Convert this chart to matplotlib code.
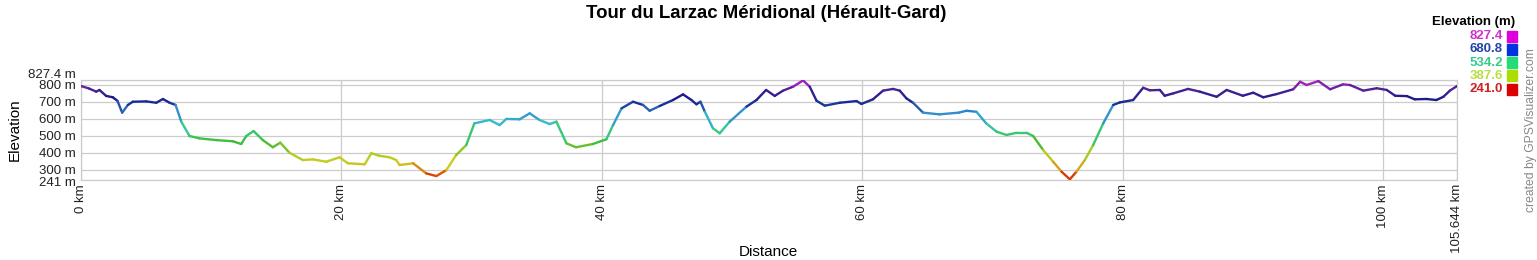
import numpy as np
import matplotlib.pyplot as plt
import matplotlib.transforms as mtransforms
from matplotlib.collections import LineCollection
from matplotlib.colors import LinearSegmentedColormap, Normalize

plt.rcParams['font.family'] = ['Liberation Sans', 'DejaVu Sans']

# profile: distance (km) and elevation (m)
dist_km = [0.0, 0.6, 1.17, 1.42, 1.93, 2.45, 2.8, 3.16, 3.6, 3.98, 5.0, 5.78, 6.29, 6.8,
           7.26, 7.7, 8.33, 9.1, 10.4, 11.66, 12.3, 12.69, 13.25, 13.96, 14.73, 15.3,
           16.0, 17.03, 17.8, 18.83, 19.85, 20.49, 21.78, 22.29, 22.9, 23.7, 24.2,
           24.46, 25.5, 26.5, 27.28, 28.05, 28.8, 29.58, 30.2, 31.37, 32.14, 32.66,
           33.68, 34.45, 35.2, 35.98, 36.5, 37.27, 38.0, 39.3, 40.34, 40.85, 41.5,
           42.38, 43.15, 43.66, 44.43, 45.45, 46.22, 46.87, 47.25, 47.56, 47.9, 48.52,
           49.04, 49.8, 51.09, 51.86, 52.6, 53.26, 53.9, 54.67, 55.44, 55.95, 56.47,
           57.1, 58.26, 59.54, 59.92, 60.8, 61.58, 62.35, 62.86, 63.37, 63.88, 64.65,
           65.9, 67.4, 67.98, 68.75, 69.5, 70.3, 71.06, 71.83, 72.6, 73.1, 73.87,
           74.64, 75.28, 75.92, 76.43, 77.07, 77.71, 78.48, 79.25, 79.76, 80.78,
           81.55, 82.06, 82.83, 83.2, 83.86, 85.0, 85.9, 87.19, 87.96, 89.2, 90.0,
           90.77, 91.8, 93.07, 93.6, 94.1, 95.0, 95.9, 96.9, 97.43, 98.45, 99.48,
           100.25, 100.9, 101.8, 102.4, 103.3, 104.06, 104.6, 105.1, 105.644]
elev_m = [792, 778, 759, 769, 734, 726, 705, 636, 681, 700, 702, 694, 716, 694,
          681, 583, 499, 485, 475, 468, 452, 499, 528, 475, 433, 460,
          401, 358, 362, 348, 374, 339, 333, 398, 383, 374, 358,
          329, 339, 280, 264, 299, 387, 446, 573, 593, 563, 599,
          597, 632, 593, 569, 583, 456, 433, 452, 480, 563, 661,
          700, 681, 647, 675, 710, 743, 710, 685, 700, 641, 544,
          515, 583, 671, 710, 769, 734, 765, 788, 825, 788, 706,
          677, 694, 704, 687, 714, 765, 775, 765, 720, 694, 636,
          626, 636, 647, 641, 573, 524, 505, 518, 518, 499, 417,
          348, 290, 245, 290, 358, 446, 573, 681, 696, 710,
          782, 767, 769, 735, 749, 775, 759, 729, 769, 735, 753,
          726, 745, 773, 817, 798, 821, 773, 802, 798, 765, 779,
          769, 735, 733, 714, 716, 710, 729, 765, 792]

elev_min, elev_max = 241.0, 827.4
total_km = 105.644
y_ticks = [241, 300, 400, 500, 600, 700, 800, 827.4]
y_labels = ['241 m', '300 m', '400 m', '500 m', '600 m', '700 m', '800 m', '827.4 m']
x_ticks = [0, 20, 40, 60, 80, 100, 105.644]
x_labels = ['0 km', '20 km', '40 km', '60 km', '80 km', '100 km', '105.644 km']

legend_vals = ['827.4', '680.8', '534.2', '387.6', '241.0']
legend_text_colors = ['#cc33cc', '#2244aa', '#33cc88', '#bbdd44', '#cc2222']
legend_box_colors = ['#dd00dd', '#0033dd', '#22dd77', '#aadd00', '#dd0000']

# line colour ramp (elevation -> colour)
ramp = [(241, '#cc1111'), (290, '#dd6600'), (340, '#cccc22'), (400, '#aacc22'),
        (460, '#44bb33'), (534, '#33cc88'), (580, '#33bbcc'), (640, '#3388cc'),
        (690, '#1a3399'), (720, '#1a1a88'), (780, '#552299'), (827.4, '#cc22cc')]
cmap = LinearSegmentedColormap.from_list(
    'elev', [((v - elev_min) / (elev_max - elev_min), c) for v, c in ramp])

fig = plt.figure(figsize=(15.37, 2.6), dpi=100)
ax = fig.add_axes([81 / 1537, 80 / 260, 1376 / 1537, 100 / 260])

x = np.array(dist_km)
y = np.array(elev_m, dtype=float)
pts = np.column_stack([x, y]).reshape(-1, 1, 2)
segs = np.concatenate([pts[:-1], pts[1:]], axis=1)
lc = LineCollection(segs, cmap=cmap, norm=Normalize(elev_min, elev_max),
                    linewidths=1.7, capstyle='round', joinstyle='round', zorder=3)
lc.set_array((y[:-1] + y[1:]) / 2)
ax.add_collection(lc)

ax.set_xlim(0, total_km)
ax.set_ylim(elev_min, elev_max)
ax.set_yticks(y_ticks)
ax.set_yticklabels(y_labels)
ax.set_xticks(x_ticks)
ax.set_xticklabels(x_labels, rotation=90)
ax.tick_params(length=0, labelsize=9.5, colors='#222222')
ax.tick_params(axis='y', pad=4)
ax.tick_params(axis='x', pad=3)

# nudge the crowded end labels apart, as in the original
ylabs = ax.get_yticklabels()
ylabs[0].set_transform(ylabs[0].get_transform() +
                       mtransforms.ScaledTranslation(0, -2 / 100, fig.dpi_scale_trans))
ylabs[-1].set_transform(ylabs[-1].get_transform() +
                        mtransforms.ScaledTranslation(0, 7 / 100, fig.dpi_scale_trans))

ax.grid(True, color='#cccccc', linewidth=0.9)
for s in ax.spines.values():
    s.set_color('#cccccc')
    s.set_linewidth(0.9)

ax.set_ylabel('Elevation', fontsize=11, labelpad=4)
fig.text(768 / 1537, 1 - 252 / 260, 'Distance', ha='center', va='center', fontsize=11)

fig.text(766 / 1537, 1 - 14 / 260, 'Tour du Larzac Méridional (Hérault-Gard)',
         ha='center', va='center', fontsize=13.4, fontweight='bold')

# legend
fig.text(1515 / 1537, 1 - 22 / 260, 'Elevation (m)', ha='right', va='center',
         fontsize=9.5, fontweight='bold')
for i, (v, tc, bc) in enumerate(zip(legend_vals, legend_text_colors, legend_box_colors)):
    yc = 1 - (36 + i * 13.3) / 260
    fig.text(1503 / 1537, yc, v, ha='right', va='center', fontsize=9.5,
             fontweight='bold', color=tc)
    fig.patches.append(plt.Rectangle((1507 / 1537, yc - 5.5 / 260), 10 / 1537, 11 / 260,
                                     transform=fig.transFigure, color=bc, figure=fig))

fig.text(1531 / 1537, 1 - 130 / 260, 'created by GPSVisualizer.com', rotation=90,
         ha='center', va='center', fontsize=8.7, color='#888888')

fig.savefig('out.png', dpi=100)
